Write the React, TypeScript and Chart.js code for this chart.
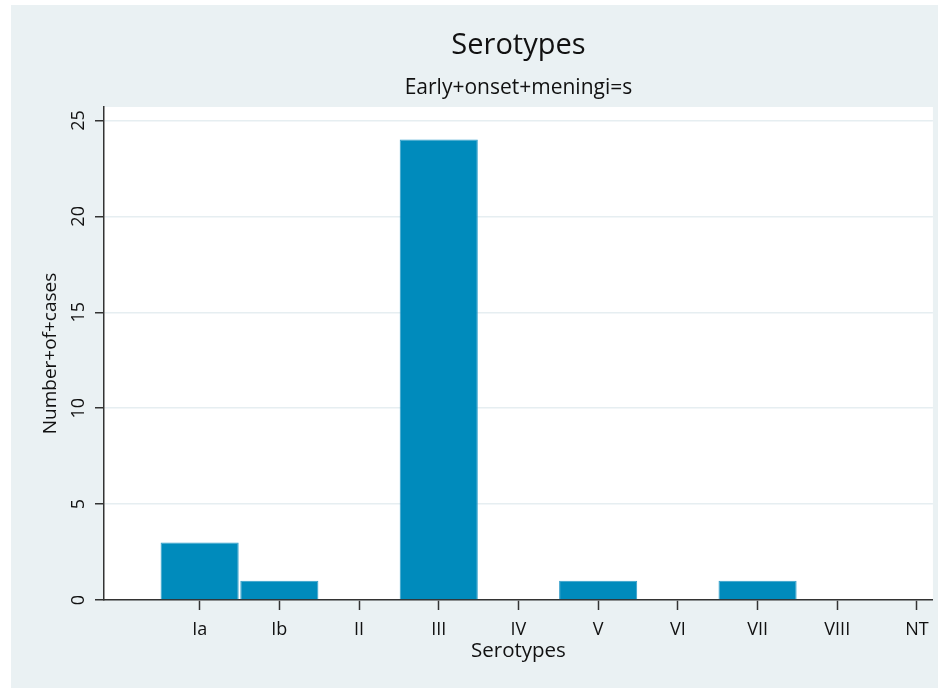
import React, { useEffect, useRef } from "react";
import { Chart, registerables } from "chart.js";

Chart.register(...registerables);

const categories = ["Ia", "Ib", "II", "III", "IV", "V", "VI", "VII", "VIII", "NT"];
const caseCounts = [3, 1, 0, 24, 0, 1, 0, 1, 0, 0];
const yTickValues = [0, 5, 10, 15, 20, 25];

const titleText = "Serotypes";
const subtitleText = "Early+onset+meningi=s";
const xTitleText = "Serotypes";
const yTitleText = "Number+of+cases";

const FONT = "'Open Sans'";
const TEXT = "#111111";
const BG = "#eaf1f3";
const AXIS = "#333333";

const plotBgPlugin = {
  id: "plotBg",
  beforeDraw(chart: any) {
    const { ctx, chartArea } = chart;
    ctx.save();
    ctx.fillStyle = "#ffffff";
    ctx.fillRect(chartArea.left, chartArea.top, chartArea.right - chartArea.left, chartArea.bottom - chartArea.top);
    ctx.restore();
  },
};

export default function App() {
  const ref = useRef<HTMLCanvasElement | null>(null);

  useEffect(() => {
    document.body.style.margin = "0";
    const canvas = ref.current;
    if (!canvas) return;
    const chart = new Chart(canvas, {
      type: "bar",
      data: {
        datasets: [
          {
            label: "Number of cases",
            data: categories.map((_, i) => ({ x: i + 1, y: caseCounts[i] })),
            backgroundColor: "#008bbc",
            borderColor: "#2f9dc9",
            borderWidth: 1,
            barPercentage: 0.98,
            categoryPercentage: 1,
          },
        ],
      },
      options: {
        animation: false,
        responsive: true,
        maintainAspectRatio: false,
        layout: { padding: { left: 0, right: 5, top: 0, bottom: 0 } },
        plugins: {
          legend: { display: false },
          tooltip: { enabled: false },
          title: {
            display: true,
            text: titleText,
            fullSize: false,
            color: TEXT,
            font: { family: FONT, size: 29, weight: "normal", lineHeight: 1.2 },
            padding: { top: 23.3, bottom: 0 },
          },
          subtitle: {
            display: true,
            text: subtitleText,
            fullSize: false,
            color: TEXT,
            font: { family: FONT, size: 21, weight: "normal", lineHeight: 1.2 },
            padding: { top: 12.2, bottom: 6.5 },
          },
        },
        scales: {
          x: {
            type: "linear",
            offset: false,
            min: -0.2,
            max: 10.2,
            afterBuildTicks: (scale: any) => {
              scale.ticks = categories.map((_, i) => ({ value: i + 1 }));
            },
            ticks: {
              color: TEXT,
              font: { family: FONT, size: 18, lineHeight: 1.2 },
              padding: 9.2,
              maxRotation: 0,
              minRotation: 0,
              autoSkip: false,
              callback: (v: any) => categories[Number(v) - 1] ?? "",
            },
            grid: {
              offset: false,
              drawOnChartArea: false,
              drawTicks: true,
              tickLength: 10,
              tickColor: AXIS,
              tickWidth: 1.5,
            },
            border: { display: true, color: AXIS, width: 1.5 },
            title: {
              display: true,
              text: xTitleText,
              color: TEXT,
              font: { family: FONT, size: 20.5, lineHeight: 1.2 },
              padding: { top: -11.3, bottom: 24.7 },
            },
          },
          y: {
            type: "linear",
            min: 0,
            max: 25.7,
            afterBuildTicks: (scale: any) => {
              scale.ticks = yTickValues.map((v) => ({ value: v }));
            },
            ticks: {
              color: TEXT,
              font: { family: FONT, size: 18, lineHeight: 1.2 },
              padding: 5.7,
              minRotation: 90,
              maxRotation: 90,
              crossAlign: "center",
              includeBounds: false,
            },
            grid: {
              color: "#e6eef1",
              lineWidth: 1.5,
              drawTicks: true,
              tickLength: 9,
              tickColor: AXIS,
              tickWidth: 1.5,
            },
            border: { display: true, color: AXIS, width: 1.5 },
            title: {
              display: true,
              text: yTitleText,
              color: TEXT,
              font: { family: FONT, size: 19, lineHeight: 1.2 },
              padding: { top: 28.2, bottom: 0 },
            },
          },
        },
      } as any,
      plugins: [plotBgPlugin],
    });
    return () => chart.destroy();
  }, []);

  return (
    <div style={{ position: "relative", width: 940, height: 688, background: "#ffffff" }}>
      <div style={{ position: "absolute", left: 11, top: 5, width: 927, height: 683, background: BG }}>
        <canvas ref={ref} />
      </div>
    </div>
  );
}
